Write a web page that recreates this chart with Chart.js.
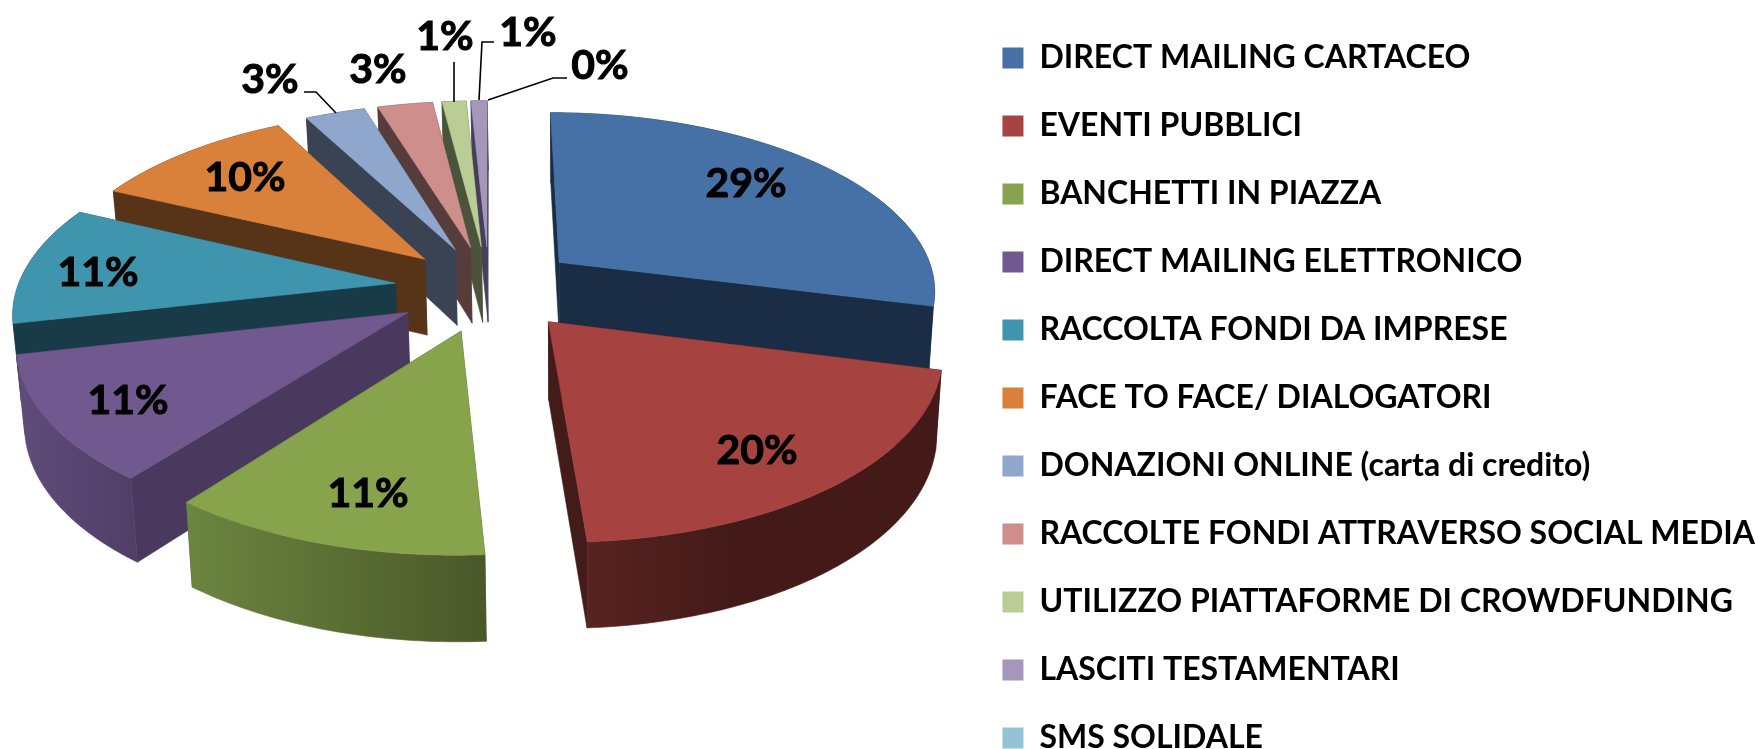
<!DOCTYPE html>
<html><head><meta charset="utf-8">
<style>html,body{margin:0;padding:0;background:#fff;overflow:hidden;width:1760px;height:749px}
#w{width:1760px;height:749px;overflow:hidden;position:relative}#w div{width:1760px;height:840px;position:relative}</style>
<script src="https://cdn.jsdelivr.net/npm/chart.js@4"></script></head>
<body><div id="w"><div><canvas id="c"></canvas></div></div>
<script>
const categories=["DIRECT MAILING CARTACEO","EVENTI PUBBLICI","BANCHETTI IN PIAZZA","DIRECT MAILING ELETTRONICO","RACCOLTA FONDI DA IMPRESE","FACE TO FACE/ DIALOGATORI","DONAZIONI ONLINE (carta di credito)","RACCOLTE FONDI ATTRAVERSO SOCIAL MEDIA","UTILIZZO PIATTAFORME DI CROWDFUNDING","LASCITI TESTAMENTARI","SMS SOLIDALE"];
const values=[29,20,11.45,11,10.55,10.25,3,2.75,1.2,0.8,0];
const topColors=["#4571A7","#A64340","#87A44C","#71588F","#4095AE","#D9803B","#8FA6CD","#CE8E8C","#B9CD94","#A597BC","#92C4D6"];
const cutColors=["#1A2D45","#431B19","#4A5829","#4A395E","#193B47","#573318","#3A4354","#573C3C","#4B543A","#45405A","#2f5560"];
const outerLeft=["#1A2D45","#582321","#6C8540","#5F4C7A","#193B47","#573318","#3A4354","#573C3C","#4B543A","#45405A","#2f5560"];
const outerRight=["#1A2D45","#431A18","#4A5829","#513F69","#193B47","#573318","#3A4354","#573C3C","#4B543A","#45405A","#2f5560"];
const explode=[0.24,0.24,0.245,0.25,0.25,0.24,0.24,0.24,0.24,0.24,0.24];
const drawOrder=[10,9,8,7,6,5,4,3,2,0,1];
const labelPos=[[746,184],[757,451],[368,494],[128,401],[98,273],[245,178],[270,80],[378,70],[445,37],[528,33],[600,66]];
const leaders=[null,null,null,null,null,null,[[304,92],[316,92],[336,113]],null,[[454,62],[454,102]],[[494,42],[482,42],[479,100]],[[567,78],[553,78],[488,100]]];
const FONT="Lato, Carlito, sans-serif";
const view={X0:489,Y0:288,A:378,B:178,k:0.144,D:77};
function project(u,v,low){
  const s=1/(1-view.k*v);
  let x=view.X0+view.A*u*s, y=view.Y0+view.B*v*s;
  if(low){y+=view.D*Math.pow(s,0.6);x+=(570-x)*0.015;}
  return [x,y];
}
function poly(ctx,pts,fill){ctx.beginPath();pts.forEach((p,i)=>i?ctx.lineTo(p[0],p[1]):ctx.moveTo(p[0],p[1]));ctx.closePath();ctx.fillStyle=fill;ctx.fill();ctx.strokeStyle=fill;ctx.lineWidth=0.6;ctx.stroke();}
function drawSlice(ctx,arc,i){
  const a0=arc.startAngle,a1=arc.endAngle;
  if(a1-a0<1e-4)return;
  const m=(a0+a1)/2,au=explode[i]*Math.cos(m),av=explode[i]*Math.sin(m);
  const n=Math.max(4,Math.ceil((a1-a0)*60));
  const rim=[];
  for(let j=0;j<=n;j++){const a=a0+(a1-a0)*j/n;rim.push([au+Math.cos(a),av+Math.sin(a)]);}
  const hi=p=>project(p[0],p[1],false),lo=p=>project(p[0],p[1],true);
  const apex=[au,av];
  const walls=[
    {v:(av+rim[0][1])/2,pts:[hi(apex),hi(rim[0]),lo(rim[0]),lo(apex)],fill:cutColors[i]},
    {v:(av+rim[n][1])/2,pts:[hi(apex),hi(rim[n]),lo(rim[n]),lo(apex)],fill:cutColors[i]}
  ];
  const tops=rim.map(hi),bots=rim.map(lo);
  const xs=tops.map(p=>p[0]),minX=Math.min(...xs),maxX=Math.max(...xs);
  const g=ctx.createLinearGradient(minX,0,maxX,0);
  g.addColorStop(0,outerLeft[i]);g.addColorStop(i===1?0.4:1,outerRight[i]);if(i===1)g.addColorStop(1,outerRight[i]);
  walls.push({v:av+Math.sin(m),pts:tops.concat(bots.reverse()),fill:g});
  walls.sort((p,q)=>p.v-q.v).forEach(w=>poly(ctx,w.pts,w.fill));
  poly(ctx,[hi(apex)].concat(tops),topColors[i]);
}
const pie3d={id:'pie3d',
  beforeDatasetDraw(chart,args){
    const ctx=chart.ctx,arcs=args.meta.data,total=values.reduce((a,b)=>a+b,0);
    ctx.save();
    drawOrder.forEach(i=>drawSlice(ctx,arcs[i],i));
    ctx.strokeStyle="#000";ctx.lineWidth=1.6;
    leaders.forEach(l=>{if(!l)return;ctx.beginPath();l.forEach((p,j)=>j?ctx.lineTo(p[0],p[1]):ctx.moveTo(p[0],p[1]));ctx.stroke();});
    ctx.fillStyle="#000";ctx.font="bold 41px "+FONT;ctx.textAlign="center";ctx.textBaseline="middle";ctx.lineWidth=1;
    values.forEach((v,i)=>{const t=Math.round(v/total*100)+"%";ctx.fillText(t,labelPos[i][0],labelPos[i][1]);ctx.strokeText(t,labelPos[i][0],labelPos[i][1]);});
    ctx.restore();
    return false;
  }};
new Chart(document.getElementById('c'),{type:'pie',
  data:{labels:categories,datasets:[{data:values,backgroundColor:topColors,borderWidth:0}]},
  options:{responsive:true,maintainAspectRatio:false,animation:false,
    layout:{padding:{top:6,right:-5}},
    plugins:{tooltip:{enabled:false},
      legend:{position:'right',align:'start',
        labels:{boxWidth:21,boxHeight:21,padding:36,color:"#000",font:{family:FONT,weight:'bold',size:32}}}}},
  plugins:[pie3d]});
</script></body></html>
